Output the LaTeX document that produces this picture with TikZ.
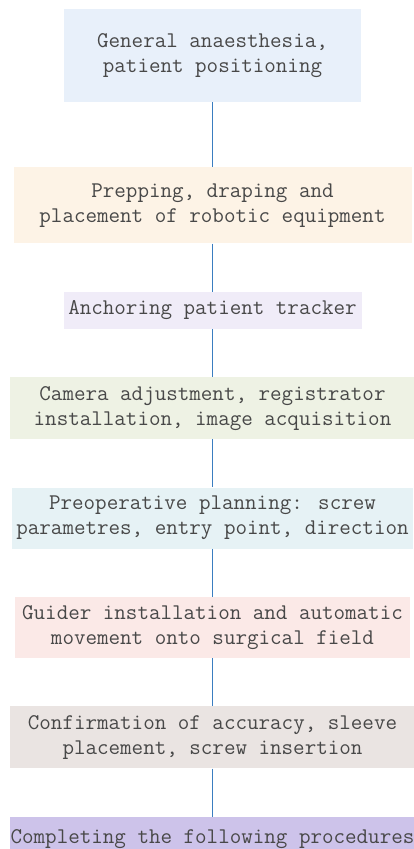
\documentclass[tikz,border=0pt]{standalone}
\usepackage{tikz}
\usetikzlibrary{positioning}
\definecolor{stblue}{HTML}{E8F0FA}
\definecolor{stpeach}{HTML}{FDF3E6}
\definecolor{stlilac}{HTML}{F0ECF8}
\definecolor{stgreen}{HTML}{EEF2E4}
\definecolor{stcyan}{HTML}{E6F2F5}
\definecolor{stpink}{HTML}{FBE9E7}
\definecolor{stgrey}{HTML}{EAE4E2}
\definecolor{stpurple}{HTML}{CDC3EA}
\definecolor{sttext}{HTML}{484848}
\definecolor{stline}{HTML}{3A7DC0}

\begin{document}
\begin{tikzpicture}[x=1pt, y=1pt, node distance=48pt,
    stage/.style={rectangle, align=center, inner sep=0pt, text=sttext,
      font=\ttfamily\fontsize{22.4}{25}\selectfont},
    link/.style={stline, line width=0.8pt}]
      \useasboundingbox (0,0) rectangle (413,-849);

      % Preparation
      \node[stage, fill=stblue, minimum width=297pt, minimum height=93pt] (anaesth) at (212.5,-55.5) {General anaesthesia,\\patient positioning};
      \node[stage, fill=stpeach, minimum width=398pt, minimum height=76pt, below=65pt of anaesth] (prepping) {Prepping, draping and\\placement of robotic equipment};
      \node[stage, fill=stlilac, minimum width=298pt, minimum height=37pt, below=of prepping] (tracker) {Anchoring patient tracker};

      % Imaging and planning
      \node[stage, fill=stgreen, minimum width=405pt, minimum height=62pt, below=of tracker] (camera) {Camera adjustment, registrator\\installation, image acquisition};
      \node[stage, fill=stcyan, minimum width=401pt, minimum height=61pt, below=of camera] (planning) {Preoperative planning: screw\\parametres, entry point, direction};

      % Execution
      \node[stage, fill=stpink, minimum width=395pt, minimum height=61pt, below=of planning] (guider) {Guider installation and automatic\\movement onto surgical field};
      \node[stage, fill=stgrey, minimum width=406pt, minimum height=62pt, below=of guider] (insertion) {Confirmation of accuracy, sleeve\\placement, screw insertion};
      \node[stage, fill=stpurple, minimum width=406pt, minimum height=40pt, text depth=0pt, below=of insertion] (finish) {Completing the following procedures};

      % Connectors
      \draw[link] (anaesth) -- (prepping);
      \draw[link] (prepping) -- (tracker);
      \draw[link] (tracker) -- (camera);
      \draw[link] (camera) -- (planning);
      \draw[link] (planning) -- (guider);
      \draw[link] (guider) -- (insertion);
      \draw[link] (insertion) -- (finish);
    \end{tikzpicture}
\end{document}
